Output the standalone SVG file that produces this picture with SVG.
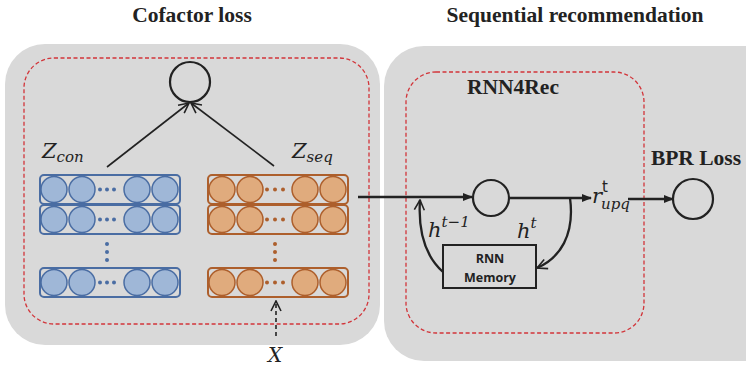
<svg xmlns="http://www.w3.org/2000/svg" width="746" height="366" viewBox="0 0 746 366">
<style>
.panel{fill:#d9d9d9}
.dash{fill:none;stroke:#d2353a;stroke-width:1.3;stroke-dasharray:4 2.5}
.title{font-family:"Liberation Serif",serif;font-weight:bold;font-size:21.5px;fill:#222}
.math{font-family:"DejaVu Serif","Liberation Serif",serif;font-style:italic;fill:#222}
.ln{fill:none;stroke:#222;stroke-width:1.6}
.thk{fill:none;stroke:#222;stroke-width:2.3}
.node{fill:none;stroke:#222;stroke-width:2.2}
.brow{fill:none;stroke:#4a6da3;stroke-width:2}
.bc{fill:#9fb7d7;stroke:#4a6da3;stroke-width:1.5}
.bd{fill:#4a6da3}
.orow{fill:none;stroke:#ad5f2c;stroke-width:2}
.oc{fill:#e0ab7d;stroke:#ad5f2c;stroke-width:1.5}
.od{fill:#ad5f2c}
.mem{font-family:"Open Sans","Liberation Sans",sans-serif;font-weight:bold;font-size:12.5px;fill:#222}
</style>
<defs>
<marker id="vopen" viewBox="0 0 12 12" refX="11" refY="6" markerWidth="12" markerHeight="12" markerUnits="userSpaceOnUse" orient="auto">
<path d="M1,1 L11,6 L1,11" fill="none" stroke="#222" stroke-width="1.6"/>
</marker>
<marker id="tri" viewBox="0 0 10 10" refX="9" refY="5" markerWidth="10" markerHeight="10" markerUnits="userSpaceOnUse" orient="auto">
<path d="M0,1 L10,5 L0,9 z" fill="#222"/>
</marker>
<g id="brow">
<rect x="40" y="0" width="140" height="29" rx="4" class="brow"/>
<circle cx="54" cy="14.5" r="13" class="bc"/>
<circle cx="82" cy="14.5" r="13" class="bc"/>
<circle cx="137" cy="14.5" r="13" class="bc"/>
<circle cx="165" cy="14.5" r="13" class="bc"/>
<circle cx="100" cy="14.5" r="2" class="bd"/>
<circle cx="107" cy="14.5" r="2" class="bd"/>
<circle cx="114" cy="14.5" r="2" class="bd"/>
</g>
<g id="orow">
<rect x="208" y="0" width="140" height="29" rx="4" class="orow"/>
<circle cx="222" cy="14.5" r="13" class="oc"/>
<circle cx="250" cy="14.5" r="13" class="oc"/>
<circle cx="305" cy="14.5" r="13" class="oc"/>
<circle cx="333" cy="14.5" r="13" class="oc"/>
<circle cx="267" cy="14.5" r="2" class="od"/>
<circle cx="275" cy="14.5" r="2" class="od"/>
<circle cx="283" cy="14.5" r="2" class="od"/>
</g>
</defs>

<g id="cofactor-panel">
<rect x="5" y="44" width="375" height="301" rx="40" class="panel"/>
<rect x="24" y="58" width="345" height="266" rx="30" class="dash"/>
<text x="192" y="22" text-anchor="middle" class="title">Cofactor loss</text>
</g>

<g id="seq-panel">
<rect x="384" y="46" width="400" height="315" rx="40" class="panel"/>
<rect x="406" y="72" width="238" height="261" rx="30" class="dash"/>
<text x="575" y="22" text-anchor="middle" class="title">Sequential recommendation</text>
<text x="513" y="94" text-anchor="middle" class="title">RNN4Rec</text>
</g>

<g id="cofactor-node">
<circle cx="190" cy="82" r="20" class="node"/>
</g>

<g id="z-con">
<use href="#brow" y="175"/>
<use href="#brow" y="205"/>
<use href="#brow" y="268"/>
<circle cx="107" cy="244" r="2" class="bd"/>
<circle cx="107" cy="252" r="2" class="bd"/>
<circle cx="107" cy="260" r="2" class="bd"/>
<text x="42" y="158" class="math" font-size="21">Z<tspan font-size="15" dy="4">con</tspan></text>
</g>

<g id="z-seq">
<use href="#orow" y="175"/>
<use href="#orow" y="205"/>
<use href="#orow" y="268"/>
<circle cx="275" cy="244" r="2" class="od"/>
<circle cx="275" cy="252" r="2" class="od"/>
<circle cx="275" cy="260" r="2" class="od"/>
<text x="292" y="158" class="math" font-size="21">Z<tspan font-size="15" dy="4">seq</tspan></text>
</g>

<g id="x-input">
<text x="275" y="362" text-anchor="middle" class="math" font-size="20">X</text>
</g>

<g id="rnn-node">
<circle cx="491" cy="198" r="18" class="node"/>
</g>

<g id="rnn-memory">
<rect x="443" y="245" width="93" height="43" fill="none" stroke="#222" stroke-width="2"/>
<text x="490" y="263" text-anchor="middle" class="mem">RNN</text>
<text x="490" y="282" text-anchor="middle" class="mem">Memory</text>
</g>

<g id="bpr-node">
<circle cx="693" cy="199" r="20" class="node"/>
<text x="696" y="165" text-anchor="middle" class="title">BPR Loss</text>
</g>

<g id="connectors">
<line x1="107" y1="167" x2="189" y2="103" class="ln" marker-end="url(#vopen)"/>
<line x1="274" y1="166" x2="191" y2="103" class="ln" marker-end="url(#vopen)"/>
<line x1="276" y1="336" x2="276" y2="301" class="ln" stroke-dasharray="4 3" marker-end="url(#vopen)"/>
<line x1="358" y1="197" x2="472" y2="197" class="thk" marker-end="url(#tri)"/>
<line x1="509" y1="198" x2="591" y2="198" class="thk" marker-end="url(#tri)"/>
<line x1="628" y1="199" x2="673" y2="199" class="thk" marker-end="url(#tri)"/>
<path d="M570,198 C575,235 560,258 537,268" class="thk" marker-end="url(#vopen)"/>
<path d="M443,272 C424,255 418,230 420,200" class="thk" marker-end="url(#vopen)"/>
<text x="428" y="237" class="math" font-size="21">h<tspan font-size="15" dy="-10">t−1</tspan></text>
<text x="517" y="238" class="math" font-size="21">h<tspan font-size="15" dy="-10">t</tspan></text>
<text x="592" y="203" class="math" font-size="21">r<tspan font-family="DejaVu Sans,sans-serif" font-style="normal" font-size="15" dy="-11" dx="0">t</tspan><tspan font-size="15" x="601" dy="17">upq</tspan></text>
</g>
</svg>
